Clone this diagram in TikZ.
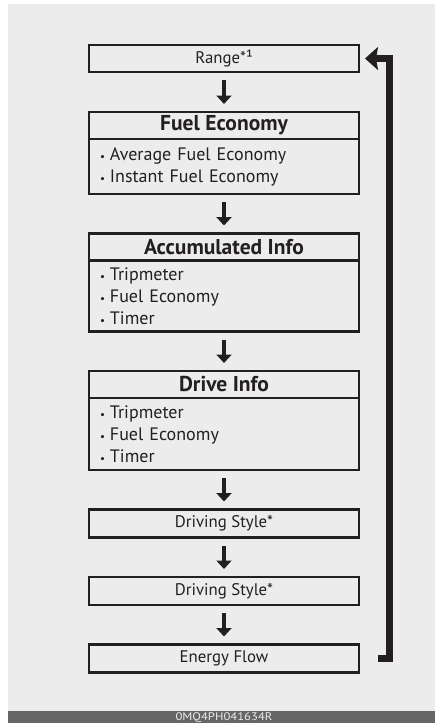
\documentclass[tikz,border=0pt]{standalone}
\usepackage{fontspec}
\setmainfont{PT Sans}
\usetikzlibrary{positioning,arrows.meta}

\definecolor{inkdark}{HTML}{231F20}
\definecolor{pagegrey}{HTML}{ECECEC}
\definecolor{bargrey}{HTML}{666666}

\tikzset{
  screenbox/.style={draw=inkdark, line width=2.3pt, rectangle, outer sep=0pt,
    minimum width=270pt, minimum height=27pt, inner sep=0pt,
    font=\fontsize{16.8}{20}\selectfont, text=inkdark},
  headbox/.style={screenbox, font=\fontsize{21.5}{24}\selectfont\bfseries},
  listbox/.style={screenbox, align=left, text width=248pt,
    font=\fontsize{18}{22}\selectfont},
  nextarrow/.style={draw=inkdark, line width=3.3pt,
    -{Triangle[width=15pt,length=8.5pt]}, shorten <=8pt, shorten >=8pt},
  returnarrow/.style={draw=inkdark, line width=6.5pt, line join=miter,
    -{Stealth[width=23pt,length=13pt,inset=2pt]}, shorten <=19pt, shorten >=6pt}
}
\newcommand{\pt}{{\fontsize{11}{11}\selectfont\textbullet}\hspace{5pt}}

\begin{document}
\begin{tikzpicture}[x=1pt, y=-1pt, node distance=39.5pt]
  \useasboundingbox (0,0) rectangle (435,723);
  \fill[pagegrey] (8,4) rectangle (435,711);
  \fill[bargrey] (8,711) rectangle (435,723);
  \node[anchor=base, text=pagegrey, inner sep=0pt, xscale=1.15,
    font=\fontsize{11}{11}\selectfont] (code) at (224,720.3) {0MQ4PH041634R};

  % screens
  \node[screenbox] (range) at (224,58.5) {Range*¹};
  \node[headbox, below=40pt of range] (fuelhead) {Fuel Economy};
  \node[listbox, minimum height=55pt, below=0pt of fuelhead] (fuelbody)
    {\pt Average Fuel Economy\\ \pt Instant Fuel Economy};
  \node[headbox, below=of fuelbody] (accuhead) {Accumulated Info};
  \node[listbox, minimum height=71pt, below=0pt of accuhead] (accubody)
    {\pt Tripmeter\\ \pt Fuel Economy\\ \pt Timer};
  \node[headbox, below=of accubody] (drivehead) {Drive Info};
  \node[listbox, minimum height=72pt, below=0pt of drivehead] (drivebody)
    {\pt Tripmeter\\ \pt Fuel Economy\\ \pt Timer};
  \node[screenbox, minimum height=28pt, below=of drivebody] (styleone) {Driving Style*};
  \node[screenbox, minimum height=28pt, below=of styleone] (styletwo) {Driving Style*};
  \node[screenbox, minimum height=28pt, below=of styletwo] (energy) {Energy Flow};

  % arrows
  \draw[nextarrow] (range) -- (fuelhead);
  \draw[nextarrow] (fuelbody) -- (accuhead);
  \draw[nextarrow] (accubody) -- (drivehead);
  \draw[nextarrow] (drivebody) -- (styleone);
  \draw[nextarrow] (styleone) -- (styletwo);
  \draw[nextarrow] (styletwo) -- (energy);

  % back to the top
  \coordinate (rail) at (389.5,0);
  \draw[returnarrow] (energy.east) -- (energy.east -| rail)
    -- (range.east -| rail) -- (range.east);
\end{tikzpicture}
\end{document}
